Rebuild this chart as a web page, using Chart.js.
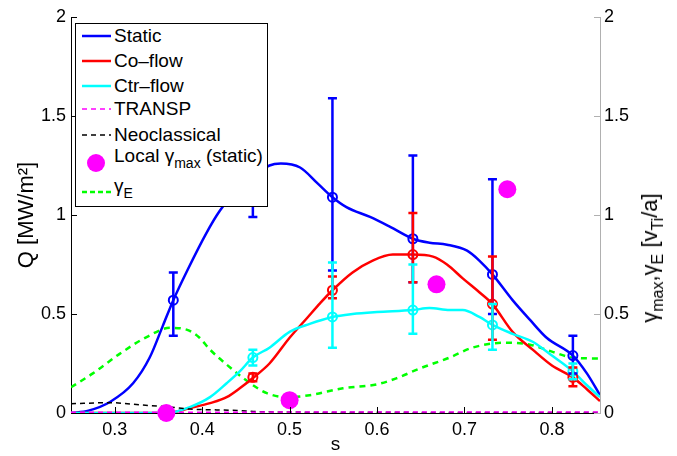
<!DOCTYPE html>
<html><head><meta charset="utf-8">
<script src="https://cdn.jsdelivr.net/npm/chart.js@4.4.1/dist/chart.umd.min.js"></script>
<style>
html,body{margin:0;padding:0;background:#fff;}
#wrap{position:relative;width:677px;height:456px;overflow:hidden;font-family:"Liberation Sans",Arial,Helvetica,sans-serif;color:#000;}
#c{position:absolute;left:0;top:0;}
#legend{position:absolute;left:75px;top:23px;width:193px;height:184px;box-sizing:border-box;border:1.5px solid #000;background:#fff;}
#legend svg{position:absolute;left:0;top:0;}
.lt{position:absolute;left:38px;font-size:19px;line-height:22px;white-space:nowrap;}
.lt sub{font-size:14px;vertical-align:-6px;line-height:0;}
#ytitle2{position:absolute;left:650px;top:258px;transform:translate(-50%,-50%) rotate(-90deg);font-size:22px;white-space:nowrap;line-height:24px;}
#ytitle2 sub{font-size:16px;vertical-align:-6px;line-height:0;}
</style></head>
<body>
<div id="wrap">
<canvas id="c" width="677" height="456"></canvas>
<div id="legend">
<svg width="190" height="181">
<line x1="6" y1="12" x2="35" y2="12" stroke="#0000ff" stroke-width="2.5"/>
<line x1="6" y1="37" x2="35" y2="37" stroke="#ff0000" stroke-width="2.5"/>
<line x1="6" y1="62" x2="35" y2="62" stroke="#00ffff" stroke-width="2.5"/>
<line x1="6" y1="85" x2="35" y2="85" stroke="#ff00ff" stroke-width="1.5" stroke-dasharray="5,4"/>
<line x1="6" y1="111" x2="35" y2="111" stroke="#000" stroke-width="1.5" stroke-dasharray="5,4"/>
<circle cx="20" cy="139" r="9" fill="#ff00ff"/>
<line x1="6" y1="168" x2="35" y2="168" stroke="#00ff00" stroke-width="2.5" stroke-dasharray="5,3"/>
</svg>
<div class="lt" style="top:1px">Static</div>
<div class="lt" style="top:26px">Co–flow</div>
<div class="lt" style="top:51px">Ctr–flow</div>
<div class="lt" style="top:74px">TRANSP</div>
<div class="lt" style="top:100px">Neoclassical</div>
<div class="lt" style="top:121px">Local γ<sub>max</sub> (static)</div>
<div class="lt" style="top:151px">γ<sub>E</sub></div>
</div>
<div id="ytitle2">γ<sub>max</sub>,γ<sub>E</sub> [v<sub>Ti</sub>/a]</div>
</div>
<script>
// ---- tick labels ----
const xTicks = [0.3, 0.4, 0.5, 0.6, 0.7, 0.8];
const xTickLabels = ['0.3', '0.4', '0.5', '0.6', '0.7', '0.8'];
const yTicks = [0, 0.5, 1, 1.5, 2];
const yTickLabels = ['0', '0.5', '1', '1.5', '2'];

// ---- simulation points with error bars ----
const sStatic = [0.367, 0.458, 0.549, 0.641, 0.732, 0.824];
const qStatic = [0.57, 1.19, 1.09, 0.88, 0.70, 0.29];
const qStaticLo = [0.39, 0.99, 0.72, 0.66, 0.50, 0.20];
const qStaticHi = [0.71, 1.39, 1.59, 1.30, 1.18, 0.39];

const sFlow = [0.458, 0.549, 0.641, 0.732, 0.824];
const qCo = [0.18, 0.62, 0.80, 0.55, 0.18];
const qCoLo = [0.16, 0.58, 0.66, 0.37, 0.135];
const qCoHi = [0.20, 0.69, 1.01, 0.79, 0.23];
const qCtr = [0.28, 0.485, 0.52, 0.445, 0.21];
const qCtrLo = [0.24, 0.33, 0.40, 0.32, 0.17];
const qCtrHi = [0.32, 0.76, 0.75, 0.55, 0.25];

// ---- smooth profiles ----
const sStaticCurve = [0.25, 0.27, 0.295, 0.321, 0.34, 0.355, 0.367, 0.383, 0.405, 0.42, 0.44, 0.458, 0.477, 0.49, 0.512, 0.532, 0.549, 0.565, 0.592, 0.615, 0.641, 0.66, 0.68, 0.703, 0.717, 0.732, 0.755, 0.775, 0.794, 0.824, 0.84, 0.855];
const qStaticCurve = [0.0, 0.012, 0.057, 0.15, 0.28, 0.44, 0.57, 0.72, 0.91, 1.02, 1.13, 1.19, 1.25, 1.26, 1.24, 1.16, 1.09, 1.04, 0.99, 0.94, 0.88, 0.86, 0.85, 0.82, 0.77, 0.70, 0.57, 0.47, 0.38, 0.29, 0.20, 0.09];

const sCoCurve = [0.25, 0.36, 0.386, 0.409, 0.428, 0.443, 0.458, 0.477, 0.5, 0.52, 0.535, 0.549, 0.572, 0.595, 0.618, 0.641, 0.664, 0.68, 0.698, 0.717, 0.732, 0.755, 0.778, 0.80, 0.824, 0.84, 0.855];
const qCoCurve = [0.0, 0.0, 0.025, 0.05, 0.08, 0.125, 0.177, 0.25, 0.38, 0.48, 0.555, 0.62, 0.71, 0.77, 0.80, 0.80, 0.79, 0.75, 0.68, 0.61, 0.55, 0.41, 0.32, 0.24, 0.18, 0.12, 0.06];

const sCtrCurve = [0.25, 0.36, 0.386, 0.409, 0.428, 0.443, 0.458, 0.477, 0.5, 0.523, 0.549, 0.572, 0.6, 0.641, 0.66, 0.683, 0.698, 0.717, 0.732, 0.755, 0.778, 0.80, 0.824, 0.84, 0.855];
const qCtrCurve = [0.0, 0.0, 0.03, 0.08, 0.15, 0.21, 0.28, 0.33, 0.41, 0.45, 0.485, 0.50, 0.51, 0.52, 0.53, 0.52, 0.52, 0.485, 0.445, 0.40, 0.36, 0.29, 0.21, 0.14, 0.08];

const sTransp = [0.25, 0.4, 0.55, 0.7, 0.855];
const qTransp = [0.004, 0.004, 0.005, 0.005, 0.005];

const sNeo = [0.25, 0.295, 0.332, 0.363, 0.386, 0.44, 0.463, 0.55, 0.7, 0.855];
const qNeo = [0.047, 0.052, 0.04, 0.03, 0.02, 0.013, 0.007, 0.004, 0.003, 0.003];

const sGammaE = [0.25, 0.275, 0.306, 0.337, 0.363, 0.383, 0.397, 0.409, 0.432, 0.455, 0.474, 0.497, 0.523, 0.561, 0.6, 0.622, 0.649, 0.683, 0.709, 0.748, 0.775, 0.80, 0.824, 0.855];
const gammaE = [0.13, 0.20, 0.30, 0.385, 0.43, 0.42, 0.38, 0.32, 0.23, 0.15, 0.10, 0.08, 0.09, 0.125, 0.145, 0.175, 0.225, 0.28, 0.33, 0.355, 0.345, 0.31, 0.28, 0.275];

const sGmax = [0.359, 0.50, 0.668, 0.749];
const gammaMax = [0.0, 0.065, 0.65, 1.13];

const BLUE = '#0000ff', RED = '#ff0000', CYAN = '#00ffff', MAGENTA = '#ff00ff', GREEN = '#00ff00';
const pts = (xs, ys) => xs.map((x, i) => ({x: x, y: ys[i]}));

const errorBars = {
  id: 'errorBars',
  afterDatasetsDraw(chart) {
    const c = chart.ctx, xs = chart.scales.x, ys = chart.scales.y;
    const groups = [
      {s: sStatic, lo: qStaticLo, hi: qStaticHi, color: BLUE},
      {s: sFlow, lo: qCoLo, hi: qCoHi, color: RED},
      {s: sFlow, lo: qCtrLo, hi: qCtrHi, color: CYAN}
    ];
    c.save();
    c.lineWidth = 2.5;
    groups.forEach(g => {
      c.strokeStyle = g.color;
      g.s.forEach((s, i) => {
        const px = xs.getPixelForValue(s), y1 = ys.getPixelForValue(g.lo[i]), y2 = ys.getPixelForValue(g.hi[i]);
        c.beginPath();
        c.moveTo(px, y1); c.lineTo(px, y2);
        c.moveTo(px - 4.5, y1); c.lineTo(px + 4.5, y1);
        c.moveTo(px - 4.5, y2); c.lineTo(px + 4.5, y2);
        c.stroke();
      });
    });
    c.restore();
  }
};

const inwardTicks = {
  id: 'inwardTicks',
  afterDraw(chart) {
    const c = chart.ctx, a = chart.chartArea, s = chart.scales;
    c.save();
    c.lineWidth = 1;
    c.strokeStyle = '#000';
    c.beginPath();
    s.y.ticks.forEach(t => { const p = Math.round(s.y.getPixelForValue(t.value)) + 0.5; c.moveTo(a.left, p); c.lineTo(a.left + 6, p); });
    s.x.ticks.forEach(t => { const p = Math.round(s.x.getPixelForValue(t.value)) + 0.5; c.moveTo(p, a.bottom); c.lineTo(p, a.bottom - 6); });
    c.stroke();
    c.strokeStyle = '#b0b0b0';
    c.beginPath();
    s.y2.ticks.forEach(t => { const p = Math.round(s.y2.getPixelForValue(t.value)) + 0.5; c.moveTo(a.right, p); c.lineTo(a.right - 6, p); });
    c.stroke();
    c.restore();
  }
};

Chart.defaults.font.family = '"Liberation Sans", Arial, Helvetica, sans-serif';
Chart.defaults.font.size = 18;
Chart.defaults.color = '#000';

const curve = (label, xs, ys, color, extra) => Object.assign({
  label: label, data: pts(xs, ys), borderColor: color, backgroundColor: color,
  borderWidth: 2.5, pointRadius: 0, fill: false, cubicInterpolationMode: 'monotone', yAxisID: 'y'
}, extra || {});
const markers = (label, xs, ys, color) => ({
  label: label, data: pts(xs, ys), showLine: false, borderColor: color,
  pointBorderColor: color, pointBackgroundColor: 'rgba(0,0,0,0)', pointRadius: 4.5,
  pointBorderWidth: 2, yAxisID: 'y', order: 1
});

new Chart(document.getElementById('c'), {
  type: 'line',
  data: {
    datasets: [
      {label: 'Local γmax (static)', data: pts(sGmax, gammaMax), showLine: false, yAxisID: 'y2',
       pointRadius: 9, pointBackgroundColor: MAGENTA, pointBorderWidth: 0, borderColor: MAGENTA, order: 0, clip: false},
      markers('Static points', sStatic, qStatic, BLUE),
      markers('Co-flow points', sFlow, qCo, RED),
      markers('Ctr-flow points', sFlow, qCtr, CYAN),
      curve('TRANSP', sTransp, qTransp, MAGENTA, {borderWidth: 1.5, borderDash: [5, 4], order: 2, cubicInterpolationMode: 'default', tension: 0}),
      curve('Neoclassical', sNeo, qNeo, '#000', {borderWidth: 1.5, borderDash: [5, 4], order: 3}),
      curve('Ctr-flow', sCtrCurve, qCtrCurve, CYAN, {order: 4}),
      curve('Co-flow', sCoCurve, qCoCurve, RED, {order: 5}),
      curve('Static', sStaticCurve, qStaticCurve, BLUE, {order: 6}),
      curve('γE', sGammaE, gammaE, GREEN, {borderDash: [6, 5], order: 7, yAxisID: 'y2'})
    ]
  },
  options: {
    responsive: false, animation: false, events: [],
    layout: {padding: {top: 17, left: 0, right: 0, bottom: 0}},
    plugins: {legend: {display: false}, tooltip: {enabled: false}},
    scales: {
      x: {
        type: 'linear', min: 0.25, max: 0.855,
        afterBuildTicks: sc => { sc.ticks = xTicks.map(v => ({value: v})); },
        afterFit: sc => { sc.height = 43; },
        ticks: {callback: (v, i) => xTickLabels[i], padding: 6, maxRotation: 0, autoSkip: false},
        grid: {display: false, drawTicks: false},
        border: {display: true, color: '#000', width: 1},
        title: {display: true, text: 's', padding: {top: 0, bottom: 0}, font: {size: 19}}
      },
      y: {
        type: 'linear', position: 'left', min: 0, max: 2,
        afterBuildTicks: sc => { sc.ticks = yTicks.map(v => ({value: v})); },
        afterFit: sc => { sc.width = 71; },
        ticks: {callback: (v, i) => yTickLabels[i], padding: 5, autoSkip: false},
        grid: {display: false, drawTicks: false},
        border: {display: true, color: '#000', width: 1},
        title: {display: true, text: 'Q [MW/m²]', padding: {top: 14, bottom: 0}, font: {size: 22}}
      },
      y2: {
        type: 'linear', position: 'right', min: 0, max: 2,
        afterBuildTicks: sc => { sc.ticks = yTicks.map(v => ({value: v})); },
        afterFit: sc => { sc.width = 77; },
        ticks: {callback: (v, i) => yTickLabels[i], padding: 4, autoSkip: false},
        grid: {display: false, drawTicks: false},
        border: {display: true, color: '#b0b0b0', width: 1}
      }
    }
  },
  plugins: [errorBars, inwardTicks]
});
</script>
</body></html>
